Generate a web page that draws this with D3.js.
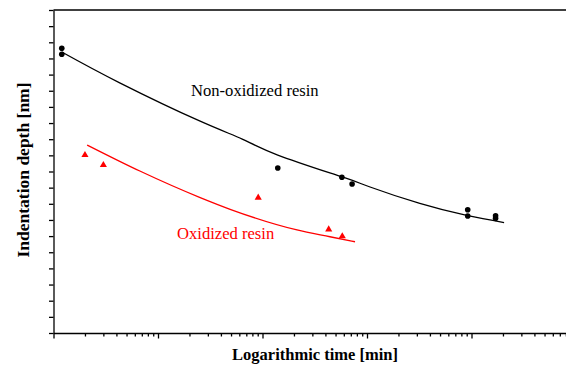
<!DOCTYPE html>
<html>
<head>
<meta charset="utf-8">
<script src="https://cdn.jsdelivr.net/npm/d3@7"></script>
<style>
  body { margin: 0; background: #fff; }
  svg { display: block; font-family: "Liberation Serif", "Times New Roman", serif; }
  .axis path, .axis line { stroke: #000; stroke-width: 1.3; }
</style>
</head>
<body>
<div id="chart"></div>
<script>
// measured points, time in min, depth in nm
const nonOxTime = [1.2, 1.2, 140, 575, 720, 9200, 9200, 17000, 17000];
const nonOxDepth = [176.3, 172.6, 102.2, 96.4, 92.3, 76.3, 72.4, 72.6, 71.0];
const oxTime = [2.0, 3.0, 91, 430, 580];
const oxDepth = [110.2, 104.0, 83.8, 64.2, 59.9];

// fitted curves
const nonOxFitTime = [1.2, 4.3, 25, 64, 140, 580, 1070, 3200, 9000, 20500];
const nonOxFitDepth = [174.0, 154.9, 131.3, 120.1, 110.2, 96.6, 90.4, 80.2, 72.8, 68.4];
const oxFitTime = [2.1, 6.7, 25, 49, 214, 442, 768];
const oxFitDepth = [116.4, 100.3, 84.0, 76.6, 63.8, 59.6, 56.5];

const yTicks = d3.range(0, 201, 10);
const decades = [1, 10, 100, 1000, 10000];

const opt = {
  width: 566,
  height: 372,
  left: 53.5,
  top: 10,
  bottom: 333,
  right: 566,
};

const svg = d3.select('#chart')
  .append('svg')
  .attr('width', opt.width)
  .attr('height', opt.height);

const x = d3.scaleLog()
  .domain([1, 100000])
  .range([opt.left, 576]);

const y = d3.scaleLinear()
  .domain([0, 200])
  .range([opt.bottom, opt.top]);

// x ticks: every 1..9 of each decade
const xTickVals = [];
decades.forEach(d => {
  for (let k = 1; k <= 9; k++) xTickVals.push(d * k);
});

const xAxis = d3.axisBottom(x)
  .tickValues(xTickVals.filter(v => x(v) <= opt.right))
  .tickFormat('')
  .tickSize(3.5)
  .tickSizeOuter(0);

const gx = svg.append('g')
  .attr('class', 'x axis')
  .attr('transform', `translate(0,${opt.bottom})`)
  .call(xAxis);

gx.selectAll('.tick line')
  .attr('y2', d => decades.includes(d) ? 5.5 : 3.5);

const yAxis = d3.axisLeft(y)
  .tickValues(yTicks)
  .tickFormat('')
  .tickSize(4.5)
  .tickSizeOuter(0);

svg.append('g')
  .attr('class', 'y axis')
  .attr('transform', `translate(${opt.left},0)`)
  .call(yAxis);

// top frame line
svg.append('line')
  .attr('x1', opt.left)
  .attr('x2', opt.right)
  .attr('y1', opt.top)
  .attr('y2', opt.top)
  .attr('stroke', '#000')
  .attr('stroke-width', 1.3);

const line = d3.line()
  .x(d => x(d[0]))
  .y(d => y(d[1]))
  .curve(d3.curveNatural);

const redLine = d3.line()
  .x(d => x(d[0]))
  .y(d => y(d[1]))
  .curve(d3.curveMonotoneX);

svg.append('path')
  .attr('d', line(d3.zip(nonOxFitTime, nonOxFitDepth)))
  .attr('fill', 'none')
  .attr('stroke', '#000')
  .attr('stroke-width', 1.3);

svg.append('path')
  .attr('d', redLine(d3.zip(oxFitTime, oxFitDepth)))
  .attr('fill', 'none')
  .attr('stroke', '#ff0000')
  .attr('stroke-width', 1.3);

svg.append('g')
  .selectAll('circle')
  .data(d3.zip(nonOxTime, nonOxDepth))
  .enter()
  .append('circle')
  .attr('cx', d => x(d[0]))
  .attr('cy', d => y(d[1]))
  .attr('r', 2.8)
  .attr('fill', '#000');

const tri = d3.symbol().type(d3.symbolTriangle).size(22);

svg.append('g')
  .selectAll('path')
  .data(d3.zip(oxTime, oxDepth))
  .enter()
  .append('path')
  .attr('d', tri)
  .attr('transform', d => `translate(${x(d[0])},${y(d[1])})`)
  .attr('fill', '#ff0000');

svg.append('text')
  .attr('x', 191)
  .attr('y', 96)
  .attr('font-size', 16.6)
  .attr('fill', '#000')
  .text('Non-oxidized resin');

svg.append('text')
  .attr('x', 177)
  .attr('y', 239)
  .attr('font-size', 16.6)
  .attr('fill', '#ff0000')
  .text('Oxidized resin');

svg.append('text')
  .attr('x', 315)
  .attr('y', 360)
  .attr('text-anchor', 'middle')
  .attr('font-size', 16.5)
  .attr('font-weight', 'bold')
  .text('Logarithmic time [min]');

svg.append('text')
  .attr('transform', 'translate(29,170) rotate(-90)')
  .attr('text-anchor', 'middle')
  .attr('font-size', 17.5)
  .attr('font-weight', 'bold')
  .text('Indentation depth [nm]');
</script>
</body>
</html>
